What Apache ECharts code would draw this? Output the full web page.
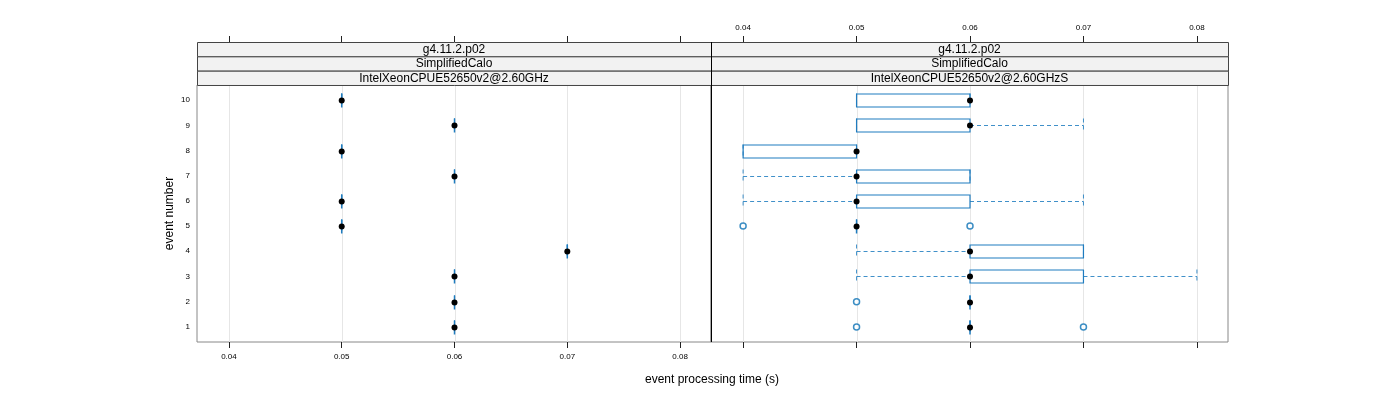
<!DOCTYPE html>
<html>
<head>
<meta charset="utf-8">
<script src="https://cdn.jsdelivr.net/npm/echarts@6/dist/echarts.min.js"></script>
<style>html,body{margin:0;padding:0;background:#fff}#c{width:1400px;height:400px}</style>
</head>
<body>
<div id="c"></div>
<script>
// ---- data ----
const events = [1, 2, 3, 4, 5, 6, 7, 8, 9, 10];
const xTicks = [0.04, 0.05, 0.06, 0.07, 0.08];
const yTicks = [1, 2, 3, 4, 5, 6, 7, 8, 9, 10];
const stripLevels = ['g4.11.2.p02', 'SimplifiedCalo'];
const leftMachine = 'IntelXeonCPUE52650v2@2.60GHz';
const rightMachine = 'IntelXeonCPUE52650v2@2.60GHzS';
// left panel: single timing per event
const leftTimes = [0.06, 0.06, 0.06, 0.07, 0.05, 0.05, 0.06, 0.05, 0.06, 0.05];
// right panel: box statistics per event
const rightLow    = [0.06, 0.06, 0.05, 0.05, 0.05, 0.04, 0.04, 0.04, 0.05, 0.05];
const rightQ1     = [0.06, 0.06, 0.06, 0.06, 0.05, 0.05, 0.05, 0.04, 0.05, 0.05];
const rightMedian = [0.06, 0.06, 0.06, 0.06, 0.05, 0.05, 0.05, 0.05, 0.06, 0.06];
const rightQ3     = [0.06, 0.06, 0.07, 0.07, 0.05, 0.06, 0.06, 0.05, 0.06, 0.06];
const rightHigh   = [0.06, 0.06, 0.08, 0.07, 0.05, 0.07, 0.06, 0.05, 0.07, 0.06];
const outlierEvents = [1, 1, 2, 5, 5];
const outlierTimes  = [0.05, 0.07, 0.05, 0.04, 0.06];

// ---- layout ----
const X_MIN = 0.03717, X_MAX = 0.08274, Y_MIN = 0.4, Y_MAX = 10.6;
const BLUE = '#1f7cbf';
const FONT = '"Liberation Sans", Arial, sans-serif';
const P0 = {left: 197, top: 85, width: 514, height: 257};
const P1 = {left: 711, top: 85, width: 517, height: 257};

const leftBox = events.map((e, i) => [e, leftTimes[i], leftTimes[i], leftTimes[i], leftTimes[i], leftTimes[i]]);
const rightBox = events.map((e, i) => [e, rightQ1[i], rightMedian[i], rightQ3[i], rightLow[i], rightHigh[i]]);
const outliers = outlierEvents.map((e, i) => [outlierTimes[i], e]);

function boxRender(params, api) {
  const y = api.value(0);
  const q1 = api.coord([api.value(1), y]);
  const md = api.coord([api.value(2), y]);
  const q3 = api.coord([api.value(3), y]);
  const lo = api.coord([api.value(4), y]);
  const hi = api.coord([api.value(5), y]);
  const cy = Math.round(md[1]) + 0.5;
  const h = 6.5;
  const dash = {stroke: BLUE, lineWidth: 1, lineDash: [4, 3], opacity: 0.85};
  const ch = [];
  if (q1[0] - lo[0] > 0.5) ch.push({type: 'line', shape: {x1: lo[0], y1: cy, x2: q1[0], y2: cy}, style: dash});
  if (hi[0] - q3[0] > 0.5) ch.push({type: 'line', shape: {x1: q3[0], y1: cy, x2: hi[0], y2: cy}, style: dash});
  ch.push({type: 'line', shape: {x1: lo[0], y1: cy - 7, x2: lo[0], y2: cy + 7}, style: dash});
  ch.push({type: 'line', shape: {x1: hi[0], y1: cy - 7, x2: hi[0], y2: cy + 7}, style: dash});
  if (q3[0] - q1[0] > 0.5) {
    ch.push({type: 'rect', shape: {x: q1[0], y: cy - h, width: q3[0] - q1[0], height: 2 * h},
      style: {fill: 'none', stroke: BLUE, lineWidth: 1.2}});
  } else {
    ch.push({type: 'line', shape: {x1: q1[0], y1: cy - 7, x2: q1[0], y2: cy + 7},
      style: {stroke: BLUE, lineWidth: 1.5}});
  }
  ch.push({type: 'circle', shape: {cx: md[0], cy: cy, r: 3}, style: {fill: '#000'}});
  return {type: 'group', children: ch};
}

function gridRender(params, api) {
  const t = api.value(0);
  const a = api.coord([t, Y_MIN]);
  const b = api.coord([t, Y_MAX]);
  const x = Math.round(a[0]) + 0.5;
  return {type: 'line', shape: {x1: x, y1: a[1], x2: x, y2: b[1]}, style: {stroke: '#e6e6e6', lineWidth: 1}};
}

function xAxisDef(gridIndex, position, showLabel) {
  return {
    type: 'value', gridIndex, position, min: X_MIN, max: X_MAX,
    offset: position === 'top' ? 43 : 0,
    axisLine: {show: false},
    axisTick: {show: true, customValues: xTicks, length: 6, lineStyle: {color: '#222', width: 1}},
    axisLabel: {show: showLabel, customValues: xTicks, fontSize: 8, color: '#000', fontFamily: FONT,
      margin: position === 'top' ? 10 : 11, formatter: v => String(Number(v.toFixed(2)))},
    splitLine: {show: false}
  };
}

const graphics = [];
function strip(p, labels) {
  labels.forEach((txt, k) => {
    const y = 42 + k * 14.33;
    graphics.push({type: 'rect', left: p.left, top: y, silent: true, z: 10,
      shape: {x: 0, y: 0, width: p.width, height: 14.33},
      style: {fill: '#f2f2f2', stroke: '#444', lineWidth: 1}});
    graphics.push({type: 'text', x: p.left + p.width / 2, y: y + 7.6, silent: true, z: 11,
      style: {text: txt, fill: '#000', font: '12px ' + FONT, textAlign: 'center', textVerticalAlign: 'middle'}});
  });
}
strip(P0, stripLevels.concat([leftMachine]));
strip(P1, stripLevels.concat([rightMachine]));
graphics.push({type: 'line', shape: {x1: 711.5, y1: 42, x2: 711.5, y2: 342}, style: {stroke: '#000', lineWidth: 1}, z: 12, silent: true});
graphics.push({type: 'text', x: 712, y: 380, silent: true,
  style: {text: 'event processing time (s)', fill: '#000', font: '12px ' + FONT, textAlign: 'center', textVerticalAlign: 'middle'}});

const chart = echarts.init(document.getElementById('c'), null, {renderer: 'canvas'});
chart.setOption({
  animation: false,
  backgroundColor: '#fff',
  grid: [
    Object.assign({show: true, borderColor: '#888', borderWidth: 1, backgroundColor: '#fff'}, P0),
    Object.assign({show: true, borderColor: '#888', borderWidth: 1, backgroundColor: '#fff'}, P1)
  ],
  xAxis: [
    xAxisDef(0, 'bottom', true),
    xAxisDef(1, 'bottom', false),
    xAxisDef(0, 'top', false),
    xAxisDef(1, 'top', true)
  ],
  yAxis: [
    {type: 'value', gridIndex: 0, min: Y_MIN, max: Y_MAX,
      name: 'event number', nameLocation: 'middle', nameRotate: 90, nameGap: 21,
      nameTextStyle: {fontSize: 12, color: '#000', fontFamily: FONT},
      axisLine: {show: false}, axisTick: {show: false},
      axisLabel: {customValues: yTicks, fontSize: 8, color: '#000', fontFamily: FONT, margin: 7},
      splitLine: {show: false}},
    {type: 'value', gridIndex: 1, min: Y_MIN, max: Y_MAX,
      axisLine: {show: false}, axisTick: {show: false}, axisLabel: {show: false}, splitLine: {show: false}}
  ],
  graphic: graphics,
  series: [
    {type: 'custom', xAxisIndex: 0, yAxisIndex: 0, data: xTicks.map(t => [t]), renderItem: gridRender, encode: {x: 0}, silent: true, z: 1},
    {type: 'custom', xAxisIndex: 1, yAxisIndex: 1, data: xTicks.map(t => [t]), renderItem: gridRender, encode: {x: 0}, silent: true, z: 1},
    {type: 'custom', xAxisIndex: 0, yAxisIndex: 0, data: leftBox, renderItem: boxRender, encode: {x: [1, 2, 3, 4, 5], y: 0}, z: 3},
    {type: 'custom', xAxisIndex: 1, yAxisIndex: 1, data: rightBox, renderItem: boxRender, encode: {x: [1, 2, 3, 4, 5], y: 0}, z: 3},
    {type: 'scatter', xAxisIndex: 1, yAxisIndex: 1, data: outliers, symbol: 'circle', symbolSize: 6,
      itemStyle: {color: '#fff', borderColor: '#0d72b5', borderWidth: 1.5}, z: 4}
  ]
});
</script>
</body>
</html>
